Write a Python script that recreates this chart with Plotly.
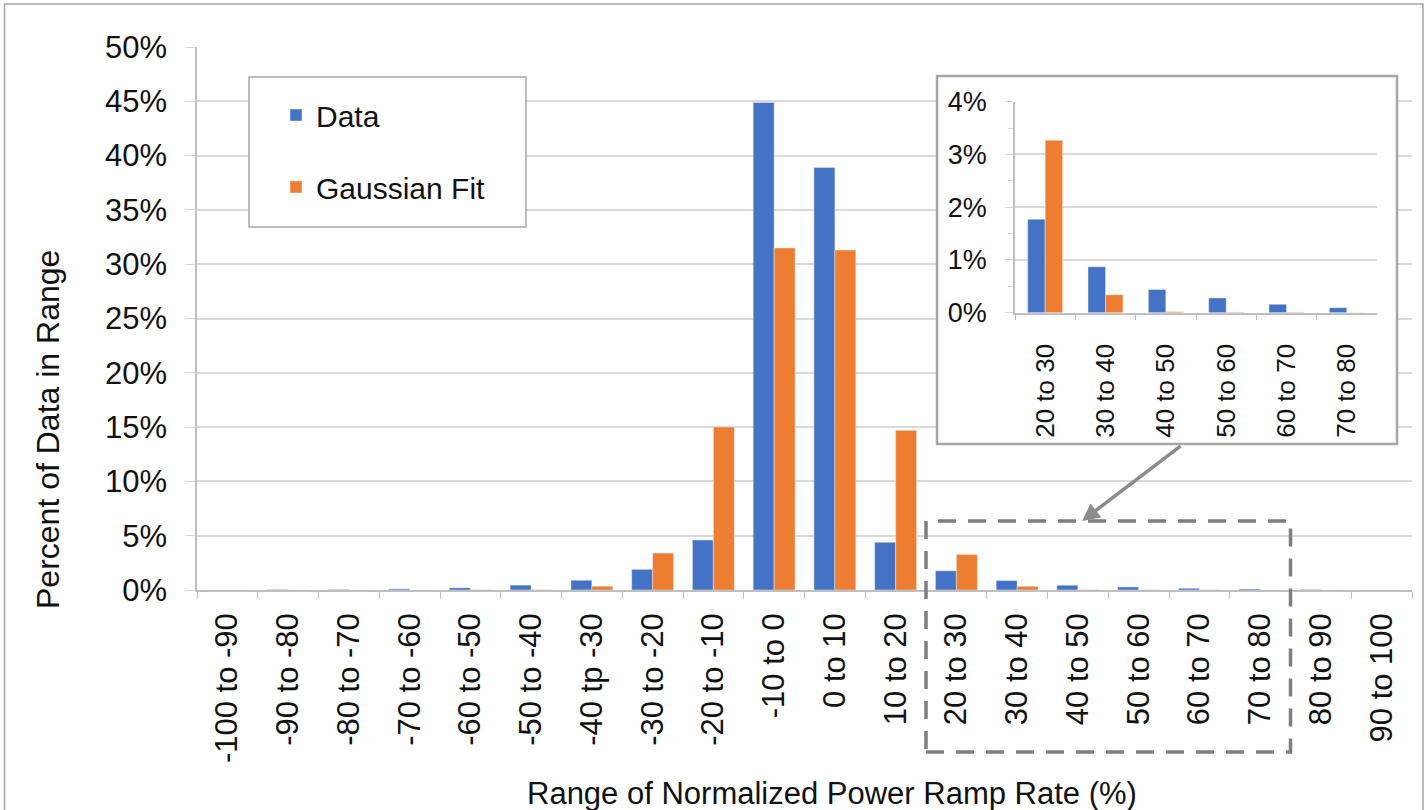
import plotly.graph_objects as go

# ---------------- data ----------------
categories = ["-100 to -90", "-90 to -80", "-80 to -70", "-70 to -60", "-60 to -50",
              "-50 to -40", "-40 tp -30", "-30 to -20", "-20 to -10", "-10 to 0",
              "0 to 10", "10 to 20", "20 to 30", "30 to 40", "40 to 50",
              "50 to 60", "60 to 70", "70 to 80", "80 to 90", "90 to 100"]
data_pct = [0.0, 0.0005, 0.0005, 0.001, 0.002, 0.0045, 0.009, 0.019, 0.046, 0.449,
            0.389, 0.044, 0.0177, 0.0087, 0.0044, 0.0028, 0.0016, 0.00095, 0.0005, 0.0]
gauss_pct = [0.0, 0.0, 0.0, 0.0, 0.0002, 0.0003, 0.0035, 0.034, 0.150, 0.315,
             0.313, 0.147, 0.0327, 0.0034, 0.0002, 0.0001, 0.0001, 0.0, 0.0, 0.0]

inset_categories = ["20 to 30", "30 to 40", "40 to 50", "50 to 60", "60 to 70", "70 to 80"]
inset_data = [0.0177, 0.0087, 0.0044, 0.0028, 0.0016, 0.00095]
inset_gauss = [0.0327, 0.0034, 0.0002, 0.0001, 0.0001, 0.0]

y_ticks_main = [0, 0.05, 0.10, 0.15, 0.20, 0.25, 0.30, 0.35, 0.40, 0.45, 0.50]
y_ticks_inset = [0, 0.01, 0.02, 0.03, 0.04]

# ---------------- style ----------------
W, H = 1427, 810
BLUE = "#4472C4"
ORANGE = "#ED7D31"
GRID = "#d9d9d9"
AXIS = "#bfbfbf"
TXT = "#111111"
FONT = "Liberation Sans, Arial, sans-serif"

X0, X1 = 197, 1412      # main plot horizontal pixel extent
Y0, Y1 = 590, 47        # main plot vertical pixel extent (0% .. 50%)
NCAT = len(categories)
YMAX = 0.5


def px_x(p):
    return p / W


def px_y(p):
    return 1 - p / H


def cat_x(p):
    # pixel -> category coordinate on the main x axis
    return (p - X0) / ((X1 - X0) / NCAT) - 0.5


def val_y(p):
    # pixel -> value on main y axis
    return (Y0 - p) / (Y0 - Y1) * YMAX


fig = go.Figure()

# main chart
fig.add_trace(go.Bar(x=categories, y=data_pct, name="Data", marker_color=BLUE,
                     width=0.345, offset=-0.345, xaxis="x", yaxis="y",
                     legendgroup="a"))
fig.add_trace(go.Bar(x=categories, y=gauss_pct, name="Gaussian Fit", marker_color=ORANGE,
                     width=0.345, offset=0.0, xaxis="x", yaxis="y",
                     legendgroup="b"))
# inset chart
fig.add_trace(go.Bar(x=inset_categories, y=inset_data, name="Data", marker_color=BLUE,
                     width=0.29, offset=-0.29, xaxis="x2", yaxis="y2", showlegend=False))
fig.add_trace(go.Bar(x=inset_categories, y=inset_gauss, name="Gaussian Fit", marker_color=ORANGE,
                     width=0.29, offset=0.0, xaxis="x2", yaxis="y2", showlegend=False))

main_x_dom = [px_x(X0), px_x(X1)]
main_y_dom = [px_y(Y0), px_y(Y1)]
ins_x_dom = [px_x(1015), px_x(1377)]
ins_y_dom = [px_y(312.7), px_y(101.7)]

fig.update_layout(
    width=W, height=H,
    margin=dict(l=0, r=0, t=0, b=0),
    paper_bgcolor="white", plot_bgcolor="white",
    font=dict(family=FONT, size=31, color=TXT),
    barmode="group",
    showlegend=True,
    legend=dict(x=px_x(276), y=px_y(89), xanchor="left", yanchor="top",
                bgcolor="rgba(0,0,0,0)", borderwidth=0,
                font=dict(size=30, color=TXT), tracegroupgap=30,
                traceorder="grouped"),
    xaxis=dict(domain=main_x_dom, anchor="y", type="category",
               range=[-0.5, NCAT - 0.5],
               tickangle=-90, tickfont=dict(size=31, color=TXT),
               showline=True, linecolor=AXIS, linewidth=1.5,
               ticks="outside", tickson="boundaries", ticklen=7, tickcolor=AXIS,
               showgrid=False, automargin=False, ticklabelstandoff=9),
    yaxis=dict(domain=main_y_dom, anchor="x", range=[0, YMAX],
               tickvals=y_ticks_main, tickformat=".0%",
               tickfont=dict(size=31, color=TXT),
               showline=True, linecolor=AXIS, linewidth=1.5,
               ticks="outside", ticklen=10, tickcolor=GRID,
               showgrid=True, gridcolor=GRID, gridwidth=1.5, zeroline=False,
               automargin=False, ticklabelstandoff=12),
    xaxis2=dict(domain=ins_x_dom, anchor="y2", type="category",
                range=[-0.5, len(inset_categories) - 0.5],
                tickangle=-90, tickfont=dict(size=26, color=TXT),
                showline=True, linecolor=AXIS, linewidth=1.5,
                ticks="outside", tickson="boundaries", ticklen=6, tickcolor=AXIS,
                showgrid=False, automargin=False, ticklabelstandoff=19),
    yaxis2=dict(domain=ins_y_dom, anchor="x2", range=[0, 0.04],
                tickvals=y_ticks_inset, tickformat=".0%",
                tickfont=dict(size=27, color=TXT),
                showline=True, linecolor=AXIS, linewidth=1.5,
                ticks="outside", ticklen=8, tickcolor=GRID,
                minor=dict(dtick=0.005, ticks="outside", ticklen=5, tickcolor=GRID, showgrid=False),
                showgrid=True, gridcolor=GRID, gridwidth=1.5, zeroline=False,
                automargin=False, ticklabelstandoff=13),
)

shapes = [
    # inset white panel (covers main gridlines, sits under the inset subplot)
    dict(type="rect", xref="x", yref="y", layer="between",
         x0=cat_x(937), x1=cat_x(1397), y0=val_y(444), y1=val_y(76),
         fillcolor="white", line=dict(color="#a6a6a6", width=2.5)),
    # legend box
    dict(type="rect", xref="x", yref="y", layer="between",
         x0=cat_x(249), x1=cat_x(526), y0=val_y(227), y1=val_y(77),
         fillcolor="white", line=dict(color="#a6a6a6", width=1.5)),
    # dashed highlight rectangle around 20..80 categories
    dict(type="rect", xref="x", yref="paper", layer="above",
         x0=11.5, x1=17.5, y0=px_y(752), y1=px_y(521),
         fillcolor="rgba(0,0,0,0)",
         line=dict(color="#7f7f7f", width=3.5, dash="18px,12px")),
    # outer frame
    dict(type="rect", xref="paper", yref="paper", layer="above",
         x0=px_x(4.5), x1=px_x(1423), y0=-0.02, y1=px_y(4),
         fillcolor="rgba(0,0,0,0)", line=dict(color="#a6a6a6", width=1.5)),
]
fig.update_layout(shapes=shapes)

fig.update_layout(annotations=[
    dict(text="Percent of Data in Range", xref="paper", yref="paper",
         x=px_x(48), y=px_y(430), textangle=-90, showarrow=False,
         font=dict(size=32, color=TXT), xanchor="center", yanchor="middle"),
    dict(text="Range of Normalized Power Ramp Rate (%)", xref="paper", yref="paper",
         x=px_x(832), y=px_y(793), showarrow=False,
         font=dict(size=31, color=TXT), xanchor="center", yanchor="middle"),
    # arrow from inset to highlighted region
    dict(text="", xref="paper", yref="paper", x=px_x(1082), y=px_y(521),
         ax=100, ay=-76, axref="pixel", ayref="pixel",
         showarrow=True, arrowhead=2, arrowsize=1, arrowwidth=3.5,
         arrowcolor="#8c8c8c"),
])

fig.write_html("out.html",
               config={"displayModeBar": False},
               post_script="document.body.style.margin='0';document.body.style.overflow='hidden';")
